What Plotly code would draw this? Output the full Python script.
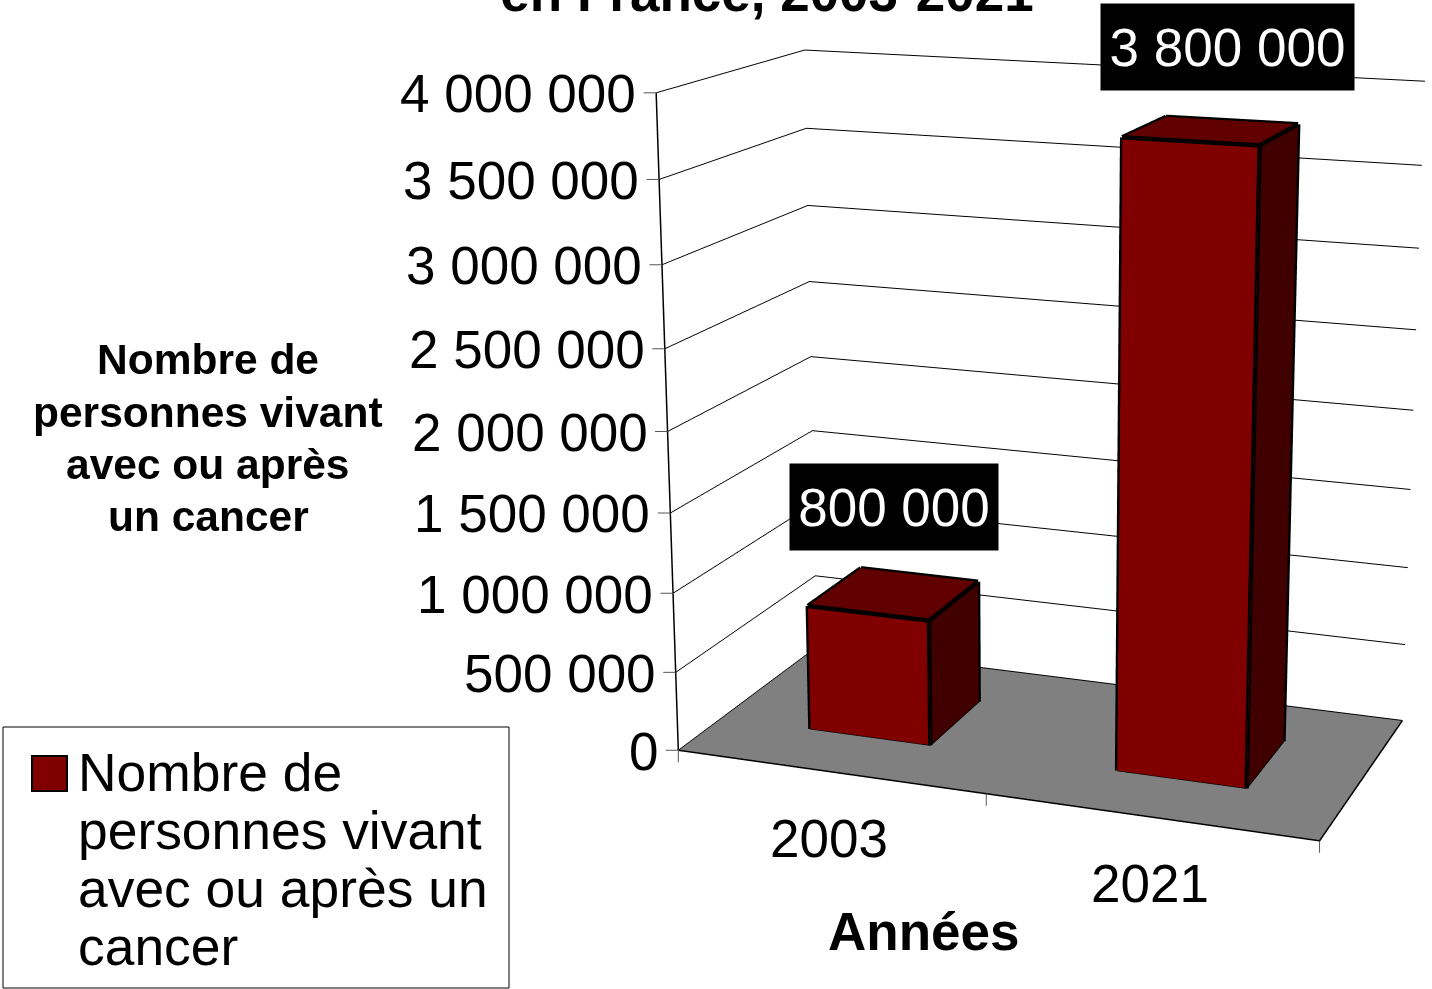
import plotly.graph_objects as go

# ---- data ----
years = ["2003", "2021"]
values = [800000, 3800000]
z_ticks = [0, 500000, 1000000, 1500000, 2000000, 2500000, 3000000, 3500000, 4000000]
z_labels = ["0", "500 000", "1 000 000", "1 500 000", "2 000 000", "2 500 000", "3 000 000", "3 500 000", "4 000 000"]
value_labels = ["800 000", "3 800 000"]
title_text = "en France, 2003-2021"
y_title_lines = ["Nombre de", "personnes vivant", "avec ou après", "un cancer"]
x_title = "Années"
legend_lines = ["Nombre de", "personnes vivant", "avec ou après un", "cancer"]

FONT = "Liberation Sans"
FS = 53
# Plotly's 3D field of view is fixed, so the long focal length of the original
# needs a canvas larger than the window, moved up by CSS below.
FIG_W, FIG_H, TOP = 2104, 2369, -763
def px(x): return x / FIG_W
def py(y): return 1 - (y - TOP) / FIG_H

eye = dict(x=1.417, y=-3.878, z=1.088)
center = dict(x=-0.025, y=0.095, z=-0.027)
up = dict(x=-0.020, y=0.050, z=1)
aspect = dict(x=1.001, y=0.504, z=1)

bar_half = 0.2
y0, y1 = 0.3, 0.7
x_max, y_max, z_max = 2, 1, z_ticks[-1]

def box(x0, x1, y0, y1, z1):
    X = [x0, x1, x1, x0, x0, x1, x1, x0]
    Y = [y0, y0, y1, y1, y0, y0, y1, y1]
    Z = [0, 0, 0, 0, z1, z1, z1, z1]
    return X, Y, Z

I = [0, 0, 1, 1, 4, 4]
J = [1, 5, 2, 6, 5, 6]
K = [5, 4, 6, 5, 6, 7]
FACE = ["#800000"] * 2 + ["#400000"] * 2 + ["#600000"] * 2

fig = go.Figure()
for i, v in enumerate(values):
    c = i + 0.5
    X, Y, Z = box(c - bar_half, c + bar_half, y0, y1, v)
    fig.add_trace(go.Mesh3d(x=X, y=Y, z=Z, i=I, j=J, k=K, facecolor=FACE, flatshading=True, name=years[i],
                            lighting=dict(ambient=1, diffuse=0, specular=0, fresnel=0, roughness=1),
                            hoverinfo="skip", showscale=False))
    ex, ey, ez = [], [], []
    for a, b in [(0,1),(1,2),(4,5),(5,6),(6,7),(7,4),(0,4),(1,5),(2,6)]:
        ex += [X[a], X[b], None]; ey += [Y[a], Y[b], None]; ez += [Z[a], Z[b], None]
    fig.add_trace(go.Scatter3d(x=ex, y=ey, z=ez, mode="lines", line=dict(color="black", width=9),
                               hoverinfo="skip", showlegend=False))

# floor outline and the vertical axis
fig.add_trace(go.Scatter3d(x=[0, x_max, x_max, None, 0, 0], y=[0, 0, y_max, None, 0, 0], z=[0, 0, 0, None, 0, z_max],
                           mode="lines", line=dict(color="black", width=3), hoverinfo="skip", showlegend=False))

anns = []
tick_style = dict(text=" ", showarrow=True, arrowhead=0, arrowwidth=1, arrowcolor="#555555", standoff=0,
                  font=dict(size=1))
for v, t in zip(z_ticks, z_labels):
    anns.append(dict(x=0, y=0, z=v, text=t, showarrow=False, xanchor="right", yanchor="middle", xshift=-18, yshift=-1,
                     font=dict(family=FONT, size=FS, color="black")))
    anns.append(dict(x=0, y=0, z=v, ax=-14, ay=0, **tick_style))
for u in range(len(years) + 1):
    anns.append(dict(x=u, y=0, z=0, ax=0, ay=14, **tick_style))
for i, t in enumerate(years):
    anns.append(dict(x=i + 0.5, y=0, z=0, text=t, showarrow=False, xanchor="center", yanchor="middle", yshift=-67,
                     font=dict(family=FONT, size=FS, color="black")))
for i, (v, t) in enumerate(zip(values, value_labels)):
    anns.append(dict(x=i + 0.5, y=0.5, z=v, text=t, showarrow=False, xanchor="center", yanchor="middle",
                     yshift=[87, 84][i], xshift=[0, 16][i], bgcolor="black", borderpad=0,
                     width=[208, 253][i], height=86, font=dict(family=FONT, size=FS, color="white")))

paper = []
for n, line in enumerate(y_title_lines):
    paper.append(dict(x=px(208), y=py(360 + 52 * n), text="<b>%s</b>" % line, xanchor="center",
                      font=dict(family=FONT, size=42.5, color="black")))
for n, line in enumerate(legend_lines):
    paper.append(dict(x=px(76), y=py(772 + 58.3 * n), text=line, xanchor="left",
                      font=dict(family=FONT, size=53.4, color="black")))
paper.append(dict(x=px(923), y=py(931), text="<b>%s</b>" % x_title, xanchor="center",
                  font=dict(family=FONT, size=FS, color="black")))
annotations = [dict(xref="paper", yref="paper", showarrow=False, yanchor="middle", **a) for a in paper]

fig.update_layout(
    width=FIG_W, height=FIG_H, margin=dict(l=0, r=0, t=0, b=0), showlegend=False,
    paper_bgcolor="white",
    title=dict(text="<b>%s</b>" % title_text, x=px(767), xanchor="center", y=py(11), yref="paper",
               yanchor="bottom", pad=dict(b=0), font=dict(family=FONT, size=FS, color="black")),
    annotations=annotations,
    shapes=[dict(type="rect", xref="paper", yref="paper", x0=px(3), x1=px(509), y0=py(727), y1=py(988),
                 line=dict(color="black", width=1), fillcolor="white", layer="below"),
            dict(type="rect", xref="paper", yref="paper", x0=px(32), x1=px(67), y0=py(756), y1=py(791),
                 line=dict(color="black", width=2), fillcolor="#800000")],
    scene=dict(
        domain=dict(x=[0, 1], y=[0, 1]), aspectmode="manual", aspectratio=aspect,
        camera=dict(eye=eye, center=center, up=up),
        annotations=anns,
        xaxis=dict(range=[0, x_max], tickvals=[], showticklabels=False, title="", showgrid=False, zeroline=False,
                   showbackground=False, showline=False, showspikes=False),
        yaxis=dict(range=[0, y_max], tickvals=[], showticklabels=False, title="", showgrid=False, zeroline=False,
                   showbackground=False, showline=False, showspikes=False),
        zaxis=dict(range=[0, z_max], tickvals=z_ticks, showticklabels=False, title="", gridcolor="black", gridwidth=2,
                   zeroline=False, showbackground=True, backgroundcolor="#808080", ticks="",
                   showline=False, showspikes=False),
    ),
)
post = """
document.documentElement.style.overflow='hidden';
document.body.style.overflow='hidden';
document.body.style.margin='0';
document.body.style.marginTop='%dpx';
""" % TOP
fig.write_html("out.html", post_script=post, config=dict(displayModeBar=False))
